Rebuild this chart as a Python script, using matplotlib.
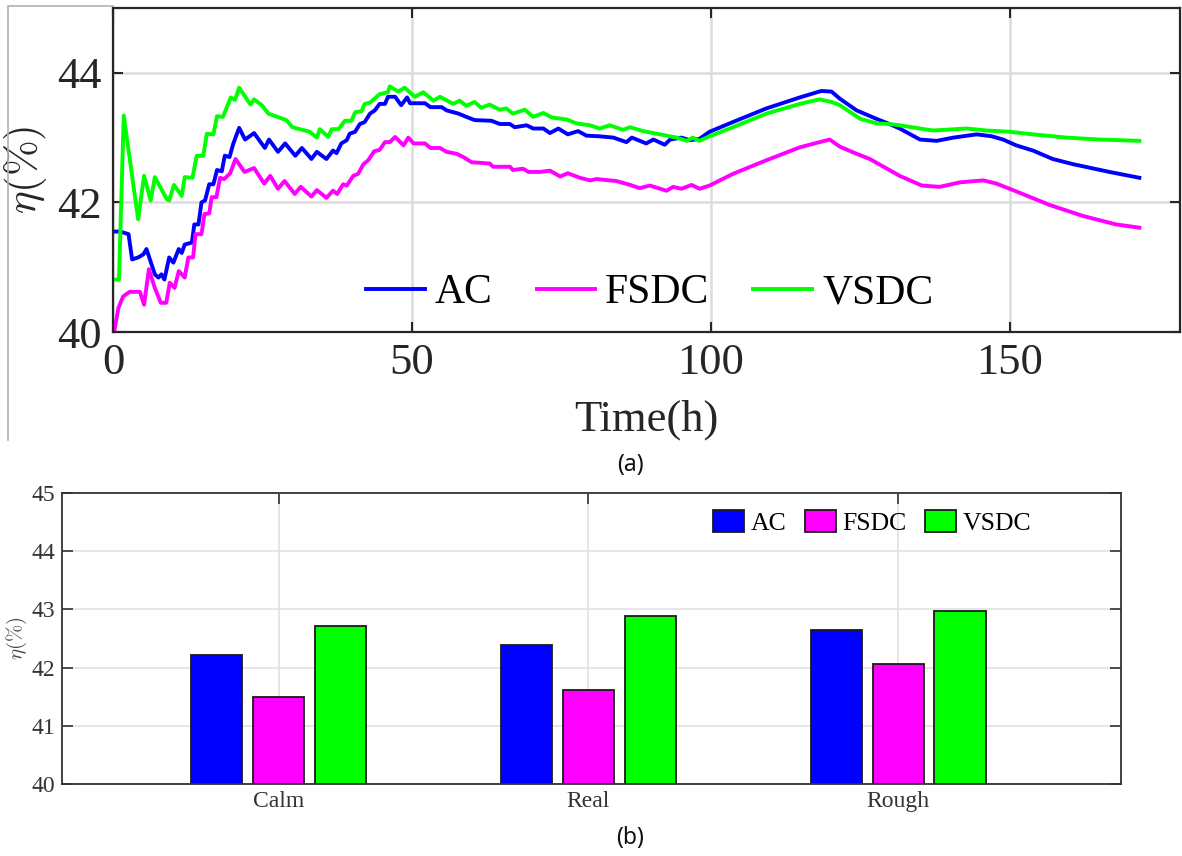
import matplotlib
matplotlib.use("Agg")
import matplotlib.pyplot as plt
import numpy as np
from matplotlib.lines import Line2D

# ---------------- data: panel (a) ----------------
t_ac = [0, 1.2, 2.6, 3.2, 4.2, 5.1, 5.6, 7.0, 7.6, 8.1, 8.6, 9.4, 10.1, 11.0, 11.5, 12.0, 13.2, 13.6, 14.3, 14.8,
        15.4, 16.1, 16.8, 17.4, 18.2, 18.7, 19.5, 20.1, 21.1, 22.1, 23.6, 25.4, 26.1, 27.6, 28.8, 30.5, 31.6, 33.2,
        34.1, 35.7, 36.8, 37.4, 38.2, 39.1, 39.6, 40.5, 41.3, 42.1, 43.0, 43.8, 44.6, 45.5, 46.0, 47.2, 48.2, 49.2,
        49.7, 52.2, 53.1, 55.0, 55.8, 57.8, 59.1, 60.5, 63.3, 64.7, 66.4, 67.2, 69.2, 70.3, 72.0, 73.1, 74.5, 76.1,
        77.8, 79.2, 81.4, 83.7, 85.9, 86.8, 89.2, 90.4, 92.3, 93.2, 95.1, 96.5, 98.1, 99.8, 103.7, 109.3, 114.9,
        118.5, 120.2, 121.6, 124.4, 127.7, 129.9, 131.6, 135.0, 137.8, 140.6, 144.5, 147.0, 148.9, 151.1, 153.9,
        157.2, 160.6, 166.7, 171.7]
eta_ac = [41.55, 41.55, 41.51, 41.12, 41.15, 41.20, 41.28, 40.89, 40.84, 40.89, 40.81, 41.15, 41.07, 41.28, 41.22,
          41.35, 41.38, 41.66, 41.66, 42.00, 42.03, 42.28, 42.28, 42.50, 42.48, 42.72, 42.70, 42.90, 43.15, 42.97,
          43.07, 42.84, 42.97, 42.78, 42.91, 42.72, 42.84, 42.67, 42.78, 42.67, 42.80, 42.76, 42.91, 42.96, 43.06,
          43.09, 43.21, 43.24, 43.37, 43.42, 43.52, 43.52, 43.63, 43.63, 43.50, 43.62, 43.53, 43.53, 43.47, 43.47,
          43.42, 43.37, 43.32, 43.27, 43.26, 43.21, 43.21, 43.16, 43.19, 43.14, 43.14, 43.07, 43.14, 43.05, 43.10,
          43.03, 43.02, 43.00, 42.93, 43.00, 42.91, 42.97, 42.89, 42.97, 43.00, 42.96, 42.98, 43.09, 43.24, 43.45,
          43.62, 43.72, 43.71, 43.60, 43.42, 43.29, 43.21, 43.14, 42.97, 42.95, 43.00, 43.05, 43.02, 42.97, 42.88,
          42.80, 42.67, 42.59, 42.47, 42.38]

t_fsdc = [0.2, 0.9, 1.7, 2.8, 4.5, 5.2, 6.0, 7.0, 8.0, 8.9, 9.5, 10.3, 11.0, 12.0, 12.6, 13.4, 13.8, 14.8, 15.3,
          16.1, 16.5, 17.3, 17.9, 18.6, 19.6, 20.5, 22.0, 23.6, 25.3, 26.3, 27.6, 28.7, 30.4, 31.4, 33.2, 34.1,
          35.7, 36.8, 37.5, 38.5, 39.1, 40.2, 41.0, 41.9, 42.7, 43.7, 44.6, 45.5, 46.3, 47.2, 48.6, 49.4, 50.3,
          52.2, 53.1, 54.7, 55.8, 57.5, 58.6, 60.0, 63.0, 63.6, 66.4, 66.9, 68.6, 69.5, 71.4, 73.1, 74.8, 76.1,
          78.1, 79.8, 80.9, 84.2, 86.5, 88.1, 89.8, 92.6, 93.7, 95.1, 96.8, 98.1, 99.8, 103.7, 109.3, 114.9, 118.2,
          119.9, 121.6, 124.4, 126.6, 131.6, 135.3, 138.3, 141.7, 145.6, 147.8, 151.1, 156.7, 162.3, 167.8, 171.7]
eta_fsdc = [40.00, 40.37, 40.55, 40.62, 40.62, 40.42, 40.97, 40.68, 40.45, 40.45, 40.76, 40.68, 40.94, 40.84,
            41.15, 41.15, 41.51, 41.51, 41.82, 41.83, 42.08, 42.08, 42.38, 42.36, 42.45, 42.67, 42.47, 42.53,
            42.29, 42.41, 42.21, 42.33, 42.13, 42.24, 42.09, 42.19, 42.07, 42.18, 42.13, 42.28, 42.26, 42.41,
            42.44, 42.59, 42.65, 42.79, 42.81, 42.93, 42.93, 43.01, 42.88, 43.00, 42.91, 42.91, 42.84, 42.84,
            42.78, 42.75, 42.70, 42.62, 42.60, 42.55, 42.55, 42.50, 42.52, 42.47, 42.47, 42.49, 42.40, 42.45,
            42.38, 42.34, 42.36, 42.33, 42.27, 42.22, 42.26, 42.18, 42.24, 42.21, 42.27, 42.21, 42.26, 42.44,
            42.65, 42.85, 42.93, 42.97, 42.86, 42.75, 42.67, 42.41, 42.26, 42.24, 42.31, 42.34, 42.29, 42.17,
            41.96, 41.79, 41.66, 41.61]

t_vsdc = [0, 1.0, 1.8, 4.2, 5.2, 6.3, 7.0, 9.0, 9.4, 10.2, 11.5, 12.0, 13.3, 14.0, 15.1, 15.7, 16.8, 17.4, 18.4,
          19.7, 20.4, 21.1, 23.0, 23.6, 24.9, 26.0, 29.0, 30.0, 32.9, 34.1, 34.6, 36.0, 36.6, 37.7, 38.8, 39.9,
          40.5, 41.6, 42.1, 43.0, 44.6, 46.0, 46.3, 47.7, 48.8, 50.5, 51.9, 53.6, 54.7, 56.9, 58.0, 59.1, 60.5,
          61.6, 63.0, 64.7, 65.8, 66.9, 68.9, 70.3, 72.0, 73.4, 75.9, 77.5, 79.8, 81.4, 83.1, 85.3, 86.5, 88.7,
          91.5, 94.3, 96.0, 97.0, 98.1, 99.8, 103.7, 109.3, 114.9, 118.2, 120.2, 121.6, 125.0, 127.7, 129.9,
          131.6, 135.0, 137.2, 142.8, 146.1, 150.0, 153.9, 159.5, 165.1, 171.7]
eta_vsdc = [40.81, 40.81, 43.34, 41.74, 42.41, 42.03, 42.39, 42.05, 42.03, 42.27, 42.10, 42.39, 42.38, 42.72,
            42.72, 43.06, 43.05, 43.33, 43.32, 43.62, 43.58, 43.77, 43.51, 43.59, 43.50, 43.37, 43.27, 43.16,
            43.09, 43.00, 43.13, 43.01, 43.13, 43.13, 43.26, 43.26, 43.39, 43.41, 43.52, 43.54, 43.67, 43.70,
            43.79, 43.71, 43.77, 43.63, 43.70, 43.57, 43.63, 43.52, 43.57, 43.49, 43.55, 43.46, 43.51, 43.43,
            43.45, 43.37, 43.43, 43.32, 43.38, 43.31, 43.28, 43.22, 43.19, 43.14, 43.19, 43.12, 43.16, 43.10,
            43.05, 43.00, 42.95, 43.00, 42.95, 43.02, 43.16, 43.37, 43.52, 43.59, 43.55, 43.50, 43.29, 43.22,
            43.21, 43.19, 43.14, 43.11, 43.14, 43.11, 43.09, 43.05, 43.00, 42.97, 42.95]

# ---------------- data: panel (b) ----------------
scenarios = ["Calm", "Real", "Rough"]
bar_ac = [42.22, 42.38, 42.65]
bar_fsdc = [41.49, 41.62, 42.06]
bar_vsdc = [42.71, 42.89, 42.97]
series_names = ["AC", "FSDC", "VSDC"]
colors = ["#0000ff", "#ff00ff", "#00ff00"]

plt.rcParams["font.family"] = ["Liberation Serif", "DejaVu Serif"]
plt.rcParams["mathtext.fontset"] = "cm"

W, H = 1182, 856
fig = plt.figure(figsize=(W / 100, H / 100), dpi=100)

def px_axes(l, t, r, b):
    return fig.add_axes([l / W, 1 - b / H, (r - l) / W, (b - t) / H])

dark = "#262626"

# ---------------- panel (a) ----------------
ax1 = px_axes(113, 8, 1180, 332)
ax1.plot(t_ac, eta_ac, color=colors[0], lw=2.8, label=series_names[0])
ax1.plot(t_fsdc, eta_fsdc, color=colors[1], lw=2.8, label=series_names[1])
ax1.plot(t_vsdc, eta_vsdc, color=colors[2], lw=2.8, label=series_names[2])
ax1.set_xlim(0, 178.5)
ax1.set_ylim(40, 45)
ax1.set_xticks([0, 50, 100, 150])
ax1.set_yticks([40, 42, 44])
ax1.grid(True, color="#dcdcdc", lw=1.8)
ax1.set_axisbelow(True)
ax1.tick_params(direction="in", length=7, width=1.5, labelsize=32, colors=dark,
                top=True, right=True, pad=8)
for s in ax1.spines.values():
    s.set_color(dark)
    s.set_linewidth(1.6)
ax1.set_xlabel("Time(h)", fontsize=32, color=dark, labelpad=12)
ax1.set_ylabel(r"$\eta(\%)$", fontsize=31, color=dark, labelpad=6)
ax1.legend(loc="center", bbox_to_anchor=(0.503, 0.12), ncol=3, frameon=False,
           fontsize=30, handlelength=1.4, handletextpad=0.25, columnspacing=1.05,
           borderaxespad=0)

# ---------------- panel (b) ----------------
ax2 = px_axes(62, 493, 1121, 784)
x = np.arange(len(scenarios))
bw = 0.165
off = 0.2
for i, (vals, name) in enumerate(zip([bar_ac, bar_fsdc, bar_vsdc], series_names)):
    ax2.bar(x + (i - 1) * off, np.array(vals) - 40, bottom=40, width=bw, color=colors[i],
            edgecolor="#1a1a1a", linewidth=1.3, label=name, zorder=3)
ax2.set_xlim(-0.7, 2.72)
ax2.set_ylim(40, 45)
ax2.set_xticks(x)
ax2.set_xticklabels(scenarios)
ax2.set_yticks([40, 41, 42, 43, 44, 45])
ax2.grid(True, color="#e2e2e2", lw=1.2, zorder=0)
ax2.set_axisbelow(True)
ax2.tick_params(direction="in", length=8, width=1.2, labelsize=17, colors="#333333",
                top=True, right=True, pad=5)
for s in ax2.spines.values():
    s.set_color("#333333")
    s.set_linewidth(1.3)
    s.set_zorder(4)
ax2.set_ylabel(r"$\eta(\%)$", fontsize=15, color="#444444", labelpad=2)
ax2.legend(loc="center", bbox_to_anchor=(0.765, 0.90), ncol=3, frameon=False,
           fontsize=18.5, handlelength=1.2, handleheight=0.95, handletextpad=0.25,
           columnspacing=0.72, borderaxespad=0)

# ---------------- captions and frame ----------------
fig.text(630 / W, 1 - 465 / H, "(a)", ha="center", va="center", fontsize=16.5,
         family=["Noto Sans", "DejaVu Sans"], color="#111111")
fig.text(630 / W, 1 - 838 / H, "(b)", ha="center", va="center", fontsize=16.5,
         family=["Noto Sans", "DejaVu Sans"], color="#111111")
fig.add_artist(Line2D([8 / W, 8 / W, 113 / W], [1 - 440 / H, 1 - 6 / H, 1 - 6 / H],
                      transform=fig.transFigure, color="#b0b0b0", lw=1.2))

fig.savefig("out.png", dpi=100)
